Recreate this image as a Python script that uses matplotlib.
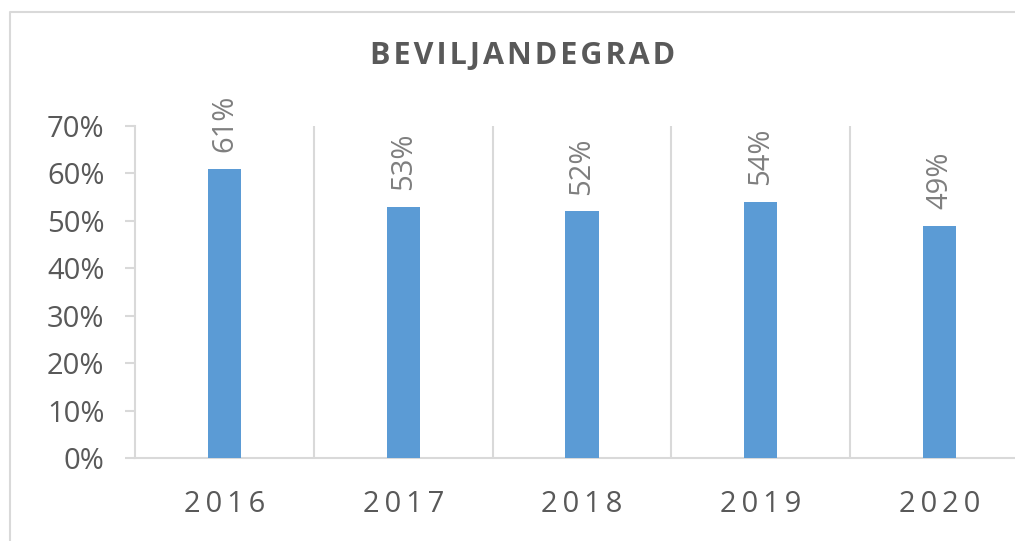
import matplotlib.pyplot as plt
from matplotlib.lines import Line2D
from matplotlib.ticker import PercentFormatter

years = ['2016', '2017', '2018', '2019', '2020']
rates = [61, 53, 52, 54, 49]
labels = ['61%', '53%', '52%', '54%', '49%']
title = 'BEVILJANDEGRAD'

bar_color = '#5B9BD5'
text_color = '#595959'
grid_color = '#D9D9D9'
plt.rcParams['font.family'] = ['Open Sans', 'DejaVu Sans']

def spaced(s, sp='\u2009'):
    # Excel-like letter spacing
    return sp.join(s)

fig = plt.figure(figsize=(10.15, 5.41), dpi=100)
# outer chart frame, only left and top visible in the crop
fig.lines.append(Line2D([0.0099, 0.0099, 1.0], [0.0, 1 - 12 / 541, 1 - 12 / 541],
                        transform=fig.transFigure, color=grid_color, linewidth=1.5))

ax = fig.add_axes([135 / 1015, 83 / 541, 894 / 1015, 332 / 541])
x = range(len(years))
ax.bar(x, rates, width=0.185, color=bar_color, zorder=3)

for i, (v, l) in enumerate(zip(rates, labels)):
    ax.annotate(l, (i, v), xytext=(0, 12), textcoords='offset points',
                rotation=90, ha='center', va='bottom', fontsize=21, color='#7F7F7F')

ax.set_xlim(-0.5, len(years) - 0.5)
ax.set_ylim(0, 70)
ax.set_yticks(range(0, 71, 10))
ax.yaxis.set_major_formatter(PercentFormatter(decimals=0))
ax.set_xticks(list(x))
ax.set_xticklabels([spaced(y) for y in years])
for t in ax.get_xticklabels():
    t.set_fontsize(21)
for t in ax.get_yticklabels():
    t.set_fontsize(21)

# category separators
for s in [i + 0.5 for i in range(len(years) - 1)]:
    ax.axvline(s, color=grid_color, linewidth=1.5, zorder=1)

for sp in ['top', 'right']:
    ax.spines[sp].set_visible(False)
ax.spines['left'].set_color(grid_color)
ax.spines['bottom'].set_color(grid_color)
ax.spines['left'].set_linewidth(1.5)
ax.spines['bottom'].set_linewidth(1.5)
ax.tick_params(axis='y', length=7, width=1.5, color=grid_color, labelcolor=text_color, pad=15)
ax.tick_params(axis='x', length=0, labelcolor=text_color, pad=23)

fig.text(523 / 1015, 1 - 56 / 541, spaced(title, '\u200a'), ha='center', va='center',
         fontsize=22, fontweight='bold', color=text_color)

fig.savefig('out.png', dpi=100)
